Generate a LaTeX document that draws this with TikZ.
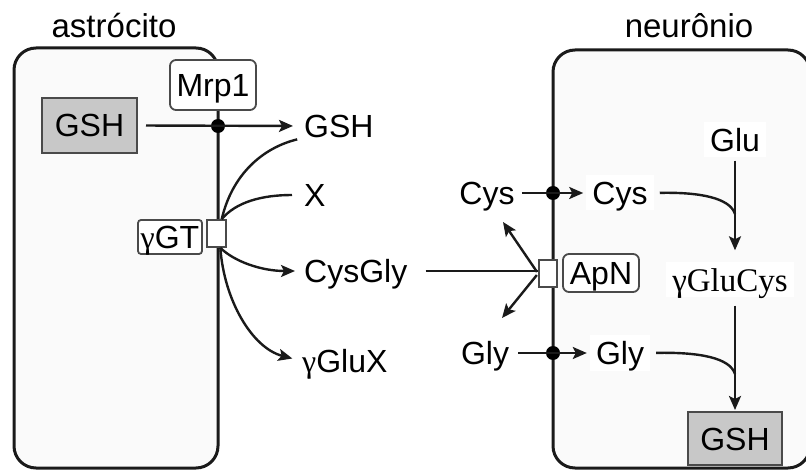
\documentclass[tikz,border=0pt]{standalone}
\usepackage{fontspec}
\setmainfont{Liberation Sans}
\newfontfamily\serifg{Liberation Serif}
\usetikzlibrary{arrows.meta}
\definecolor{ink}{HTML}{1A1A1A}
\definecolor{boxgray}{HTML}{C8C8C8}
\definecolor{cellfill}{HTML}{FAFAFA}
\definecolor{edge}{HTML}{4A4A4A}
\begin{document}
\begin{tikzpicture}[x=1pt,y=-1pt,
  txt/.style={font=\fontsize{32}{36}\selectfont, inner sep=0pt, text height=23pt, text depth=0pt},
  txtw/.style={txt, fill=white, inner xsep=6pt, inner ysep=6pt},
  cell/.style={draw=ink, line width=3pt, fill=cellfill, rounded corners=22pt},
  graybox/.style={txt, draw=edge, line width=2pt, fill=boxgray},
  wbox/.style={txt, draw=edge, line width=1.8pt, fill=white, rounded corners=6pt},
  memb/.style={draw=edge, line width=1.8pt, fill=white, inner sep=0pt},
  dot/.style={circle, fill=black, inner sep=0pt, minimum size=14pt},
  ln/.style={draw=ink, line width=2.4pt},
  arr/.style={ln, -{Stealth[length=14pt,width=12pt,inset=3pt]}}]
\useasboundingbox (0,0) rectangle (806,470);

% cells
\draw[cell] (14,48) rectangle (218,468);
\draw[cell] (553,50) rectangle (810,468);

% labels
\node[txt, font=\fontsize{33}{36}\selectfont] (astro) at (114,26) {astrócito};
\node[txt, font=\fontsize{33}{36}\selectfont] (neuro) at (689,26) {neurônio};

% astrocyte
\node[graybox, minimum width=95pt, minimum height=55pt] (gshA) at (89.5,125.5) {GSH};
\node[wbox, minimum width=86pt, minimum height=50pt] (mrp) at (213,85) {Mrp1};
\node[dot] (d1) at (218,126) {};
\node[txt, anchor=west] (gshB) at (304,126) {GSH};
\node[txt, anchor=west] (X) at (304,195) {X};
\node[txt, anchor=west] (cysgly) at (304,271) {CysGly};
\node[txt, anchor=west] (gglux) at (302,361) {{\serifg γ}GluX};
\node[wbox, rounded corners=3pt, minimum width=64pt, minimum height=34pt] (ggtlab) at (170,237) {{\serifg γ}GT};
\node[memb, minimum width=19pt, minimum height=27pt] (ggt) at (216.5,233.5) {};

\draw[arr, shorten <=8pt, shorten >=11pt] (gshA.east) -- (gshB.west);
\draw[ln, shorten >=7pt] (ggt.70) .. controls (232,175) and (262,148) .. (gshB.south west);
\draw[ln, shorten >=12pt] (ggt.70) .. controls (236,202) and (262,195) .. (X.west);
\draw[arr, shorten >=9pt] (ggt.-75) .. controls (235,262) and (262,271) .. (cysgly.west);
\draw[arr, shorten >=10pt] (ggt.-75) .. controls (224,300) and (252,348) .. (gglux.west);

% neuron
\node[txt] (cysL) at (487,193) {Cys};
\node[txtw] (cysR) at (620,193) {Cys};
\node[dot] (d2) at (553,193) {};
\node[txt] (glyL) at (485,353) {Gly};
\node[txtw] (glyR) at (620,353) {Gly};
\node[dot] (d3) at (553,353) {};
\node[txtw] (glu) at (735,140) {Glu};
\node[txtw, font=\serifg\fontsize{33}{36}\selectfont] (gcys) at (730,280) {γGluCys};
\node[graybox, minimum width=94pt, minimum height=53pt] (gshN) at (735,438.5) {GSH};
\node[memb, minimum width=18pt, minimum height=27pt] (apn) at (548,273.5) {};
\node[wbox, minimum width=76pt, minimum height=38pt] (apnlab) at (601,273) {ApN};
\coordinate (t1) at (503,222);
\coordinate (t2) at (502,318);
\coordinate (j1) at (735,214);
\coordinate (j2) at (735,374);

\draw[arr, shorten <=7pt, shorten >=3pt] (cysL.east) -- (cysR.west);
\draw[arr, shorten <=9pt, shorten >=3pt] (glyL.east) -- (glyR.west);
\draw[ln, shorten <=18pt] (cysgly.east) -- (cysgly.east -| apn.west);
\draw[arr, shorten <=2pt] (apn.west) -- (t1);
\draw[arr, shorten <=2pt] (apn.west) -- (t2);
\draw[ln, shorten <=6pt] (cysR.east) .. controls (700,192) and (730,198) .. (j1);
\draw[ln, shorten <=6pt] (glyR.east) .. controls (700,352) and (730,358) .. (j2);
\draw[arr, shorten <=3pt, shorten >=12pt] (glu.south) -- (glu.south |- gcys.north);
\draw[arr, shorten <=8pt, shorten >=1pt] (glu.south |- gcys.south) -- (glu.south |- gshN.north);
\end{tikzpicture}
\end{document}
